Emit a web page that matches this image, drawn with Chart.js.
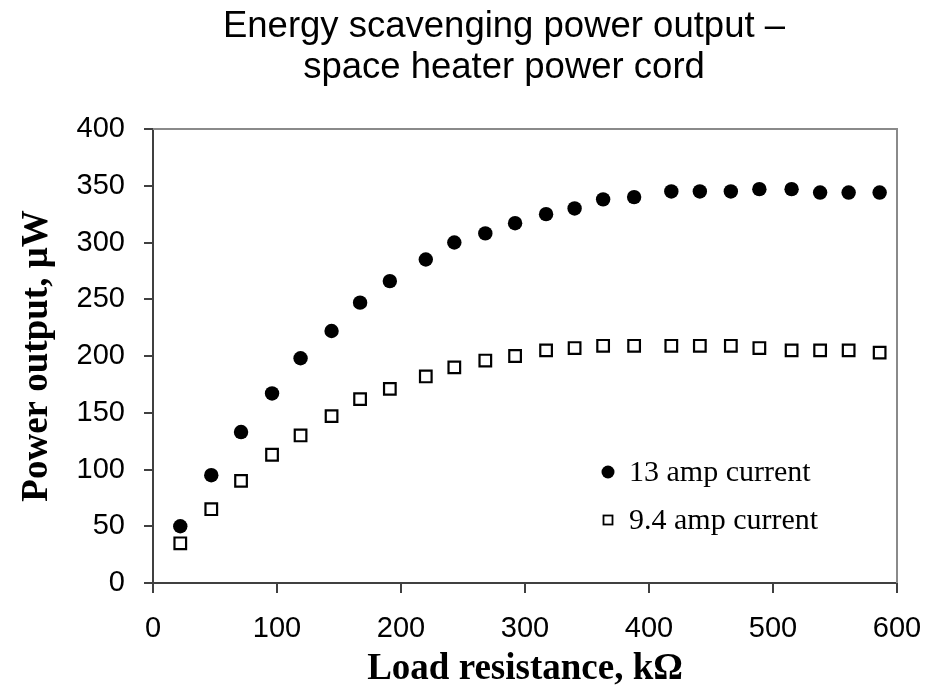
<!DOCTYPE html>
<html>
<head>
<meta charset="utf-8">
<script src="https://cdn.jsdelivr.net/npm/chart.js@4.4.0/dist/chart.umd.min.js"></script>
<style>
  html, body { margin: 0; padding: 0; background: #ffffff; }
  #wrap { width: 934px; height: 685px; }
</style>
</head>
<body>
<div id="wrap"><canvas id="c" width="934" height="685"></canvas></div>
<script>
// ---- data ----
const titleLines = ["Energy scavenging power output \u2013", "space heater power cord"];
const xTitle = "Load resistance, k\u03A9";
const yTitle = "Power output, \u03BCW";
const loadResistance = [22, 47, 71, 96, 119, 144, 167, 191, 220, 243, 268, 292, 317, 340, 363, 388, 418, 441, 466, 489, 515, 538, 561, 586];
const power13amp = [50, 95, 133, 167, 198, 222, 247, 266, 285, 300, 308, 317, 325, 330, 338, 340, 345, 345, 345, 347, 347, 344, 344, 344];
const power9p4amp = [35, 65, 90, 113, 130, 147, 162, 171, 182, 190, 196, 200, 205, 207, 209, 209, 209, 209, 209, 207, 205, 205, 205, 203];
const seriesLabels = ["13 amp current", "9.4 amp current"];
const xTicks = { min: 0, max: 600, step: 100 };
const yTicks = { min: 0, max: 400, step: 50 };

const toPoints = (xs, ys) => xs.map((x, i) => ({ x: x, y: ys[i] }));

const SANS = "'Liberation Sans', Arial, sans-serif";
const SERIF = "'Liberation Serif', 'Times New Roman', serif";

const framePlugin = {
  id: 'frame',
  beforeDatasetsDraw(chart) {
    const { ctx, chartArea: a } = chart;
    ctx.save();
    ctx.strokeStyle = '#8a8a8a';
    ctx.lineWidth = 2;
    ctx.beginPath();
    ctx.moveTo(a.left, a.top);
    ctx.lineTo(a.right, a.top);
    ctx.lineTo(a.right, a.bottom);
    ctx.stroke();
    ctx.restore();
  },
  afterDraw(chart) {
    const { ctx, chartArea: a } = chart;
    ctx.save();
    // title
    ctx.fillStyle = '#000';
    ctx.font = "36.5px " + SANS;
    ctx.textAlign = 'center';
    ctx.textBaseline = 'alphabetic';
    ctx.fillText(titleLines[0], 504, 37);
    ctx.fillText(titleLines[1], 504, 78);
    // legend
    const lx = a.left + 455, ly1 = a.top + 343, ly2 = a.top + 391;
    ctx.beginPath();
    ctx.arc(lx, ly1, 6.5, 0, Math.PI * 2);
    ctx.fillStyle = '#000';
    ctx.fill();
    ctx.lineWidth = 1.8;
    ctx.strokeStyle = '#000';
    ctx.fillStyle = '#fff';
    ctx.fillRect(lx - 4.5, ly2 - 4.5, 9, 9);
    ctx.strokeRect(lx - 4.5, ly2 - 4.5, 9, 9);
    ctx.fillStyle = '#000';
    ctx.font = "30px " + SERIF;
    ctx.textAlign = 'left';
    ctx.textBaseline = 'middle';
    ctx.fillText(chart.data.datasets[0].label, lx + 21, ly1 + 1);
    ctx.fillText(chart.data.datasets[1].label, lx + 21, ly2 + 1);
    ctx.restore();
  }
};

new Chart(document.getElementById('c'), {
  type: 'scatter',
  data: {
    datasets: [
      {
        label: seriesLabels[0],
        data: toPoints(loadResistance, power13amp),
        pointStyle: 'circle',
        pointRadius: 7.2,
        pointHoverRadius: 7.2,
        backgroundColor: '#000',
        borderColor: '#000',
        borderWidth: 0
      },
      {
        label: seriesLabels[1],
        data: toPoints(loadResistance, power9p4amp),
        pointStyle: 'rect',
        pointRadius: 8.2,
        pointHoverRadius: 8.2,
        backgroundColor: '#fff',
        borderColor: '#000',
        borderWidth: 2.2
      }
    ]
  },
  options: {
    responsive: false,
    animation: false,
    layout: { padding: { top: 129, right: 37, bottom: 0, left: 0 } },
    plugins: {
      legend: { display: false },
      title: { display: false },
      tooltip: { enabled: false }
    },
    scales: {
      x: {
        type: 'linear',
        min: xTicks.min,
        max: xTicks.max,
        afterFit(scale) { scale.height = 102; scale.paddingLeft = 0; scale.paddingRight = 0; },
        ticks: {
          stepSize: xTicks.step,
          color: '#000',
          padding: 19,
          font: { family: SANS, size: 29 }
        },
        grid: { drawOnChartArea: false, drawTicks: true, tickLength: 10, color: '#404040', lineWidth: 2 },
        border: { display: true, color: '#404040', width: 2 },
        title: {
          display: true,
          text: xTitle,
          color: '#000',
          font: { family: SERIF, size: 37, weight: 'bold', lineHeight: 1 },
          padding: { top: 0, bottom: -3 }
        }
      },
      y: {
        type: 'linear',
        min: yTicks.min,
        max: yTicks.max,
        afterFit(scale) { scale.width = 153; scale.paddingTop = 0; scale.paddingBottom = 0; },
        ticks: {
          stepSize: yTicks.step,
          color: '#000',
          padding: 19,
          font: { family: SANS, size: 29 }
        },
        grid: { drawOnChartArea: false, drawTicks: true, tickLength: 9, color: '#404040', lineWidth: 2 },
        border: { display: true, color: '#404040', width: 2 },
        title: {
          display: true,
          text: yTitle,
          color: '#000',
          font: { family: SERIF, size: 37, weight: 'bold', lineHeight: 1 },
          padding: { top: 19, bottom: 0 }
        }
      }
    }
  },
  plugins: [framePlugin]
});
</script>
</body>
</html>
